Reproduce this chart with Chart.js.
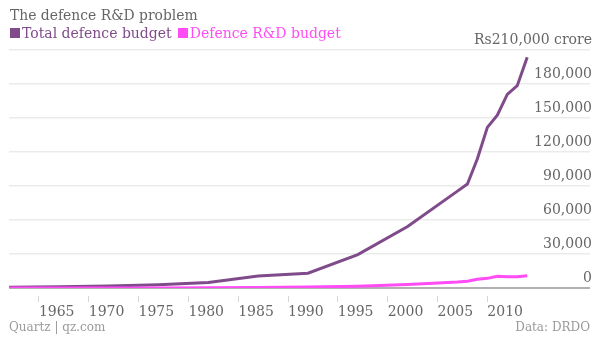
<!DOCTYPE html>
<html>
<head>
<meta charset="utf-8">
<script src="https://cdn.jsdelivr.net/npm/chart.js@4"></script>
<style>
  html, body { margin: 0; padding: 0; background: #fff; }
  #wrap { position: relative; width: 600px; height: 338px; overflow: hidden; font-family: "DejaVu Serif", serif; }
  #chart { position: absolute; left: 0; top: 0; }
  #title { position: absolute; left: 10px; top: 7px; font-size: 13.9px; line-height: 16px; color: #666; white-space: nowrap; }
  #legend { position: absolute; left: 10px; top: 24px; font-size: 14px; line-height: 18px; white-space: nowrap; }
  #legend .item { margin-right: 6px; }
  #legend .sw { display: inline-block; width: 10px; height: 10px; margin-right: 2px; }
  .foot { position: absolute; top: 320px; font-size: 12px; line-height: 14px; color: #9a9a9a; white-space: nowrap; }
  #source { left: 9px; }
  #credit { right: 10px; }
</style>
</head>
<body>
<div id="wrap">
  <canvas id="chart" width="600" height="338"></canvas>
  <div id="title">The defence R&amp;D problem</div>
  <div id="legend"></div>
  <div class="foot" id="source">Quartz | qz.com</div>
  <div class="foot" id="credit">Data: DRDO</div>
</div>
<script>
// Fiscal years (plotted at the year the fiscal year ends), Rs crore
const years = [1962, 1967, 1972, 1977, 1982, 1987, 1992, 1997, 2002, 2007, 2008, 2009, 2010, 2011, 2012, 2013, 2014];
const totalBudget = [600, 1100, 1800, 2900, 4800, 10500, 13000, 29500, 54300, 85500, 91700, 114000, 141700, 152500, 170900, 178500, 203700];
const rndBudget = [10, 20, 40, 100, 200, 400, 800, 1500, 3100, 5300, 6000, 7800, 8500, 10300, 10000, 10000, 10900];

const seriesNames = ['Total defence budget', 'Defence R&D budget'];
const seriesColors = ['#7f4b8a', '#ff4cf5'];

const yearTicks = [1965, 1970, 1975, 1980, 1985, 1990, 1995, 2000, 2005, 2010];
const valueTicks = [0, 30000, 60000, 90000, 120000, 150000, 180000, 210000];
const topTickLabel = 'Rs210,000 crore';

// HTML legend built from the series
const legendEl = document.getElementById('legend');
seriesNames.forEach((name, i) => {
  const item = document.createElement('span');
  item.className = 'item';
  item.style.color = seriesColors[i];
  const sw = document.createElement('span');
  sw.className = 'sw';
  sw.style.background = seriesColors[i];
  item.appendChild(sw);
  item.appendChild(document.createTextNode(name));
  legendEl.appendChild(item);
});

const toPoints = (vals) => years.map((yr, i) => ({ x: yr, y: vals[i] }));
const tickFont = { family: '"DejaVu Serif", serif', size: 14 };

new Chart(document.getElementById('chart'), {
  type: 'line',
  data: {
    datasets: [
      { label: seriesNames[0], data: toPoints(totalBudget), borderColor: seriesColors[0], backgroundColor: seriesColors[0],
        borderWidth: 3, pointRadius: 0, tension: 0, order: 1 },
      { label: seriesNames[1], data: toPoints(rndBudget), borderColor: seriesColors[1], backgroundColor: seriesColors[1],
        borderWidth: 3, pointRadius: 0, tension: 0, order: 0 }
    ]
  },
  options: {
    responsive: false,
    animation: false,
    layout: { padding: { left: 9, right: 10, top: 50, bottom: 0 } },
    plugins: { legend: { display: false }, tooltip: { enabled: false } },
    scales: {
      x: {
        type: 'linear',
        position: 'bottom',
        min: 1962,
        max: 2020.3,
        afterBuildTicks: (s) => { s.ticks = yearTicks.map(v => ({ value: v })); },
        afterFit: (s) => { s.height = 50; },
        border: { display: false },
        grid: { drawOnChartArea: false, drawTicks: true, tickLength: 14, tickWidth: 1, tickColor: '#d6d6d6', tickBorderDash: [0, 8, 6, 40] },
        ticks: { align: 'start', padding: 2, color: '#666', font: tickFont, autoSkip: false, maxRotation: 0, callback: (v) => String(v) }
      },
      y: {
        type: 'linear',
        position: 'right',
        min: 0,
        max: 210000,
        afterBuildTicks: (s) => { s.ticks = valueTicks.map(v => ({ value: v })); },
        afterFit: (s) => { s.width = 0; },
        border: { display: false },
        grid: {
          drawTicks: false,
          color: (c) => (c.tick && c.tick.value === 0) ? '#b0b0b0' : '#ebebeb',
          lineWidth: (c) => (c.tick && c.tick.value === 0) ? 2 : 1.5
        },
        ticks: {
          mirror: true, padding: 2, labelOffset: -10, color: '#666', font: tickFont,
          callback: (v) => v === 210000 ? topTickLabel : Number(v).toLocaleString('en-US')
        }
      }
    }
  }
});
</script>
</body>
</html>
